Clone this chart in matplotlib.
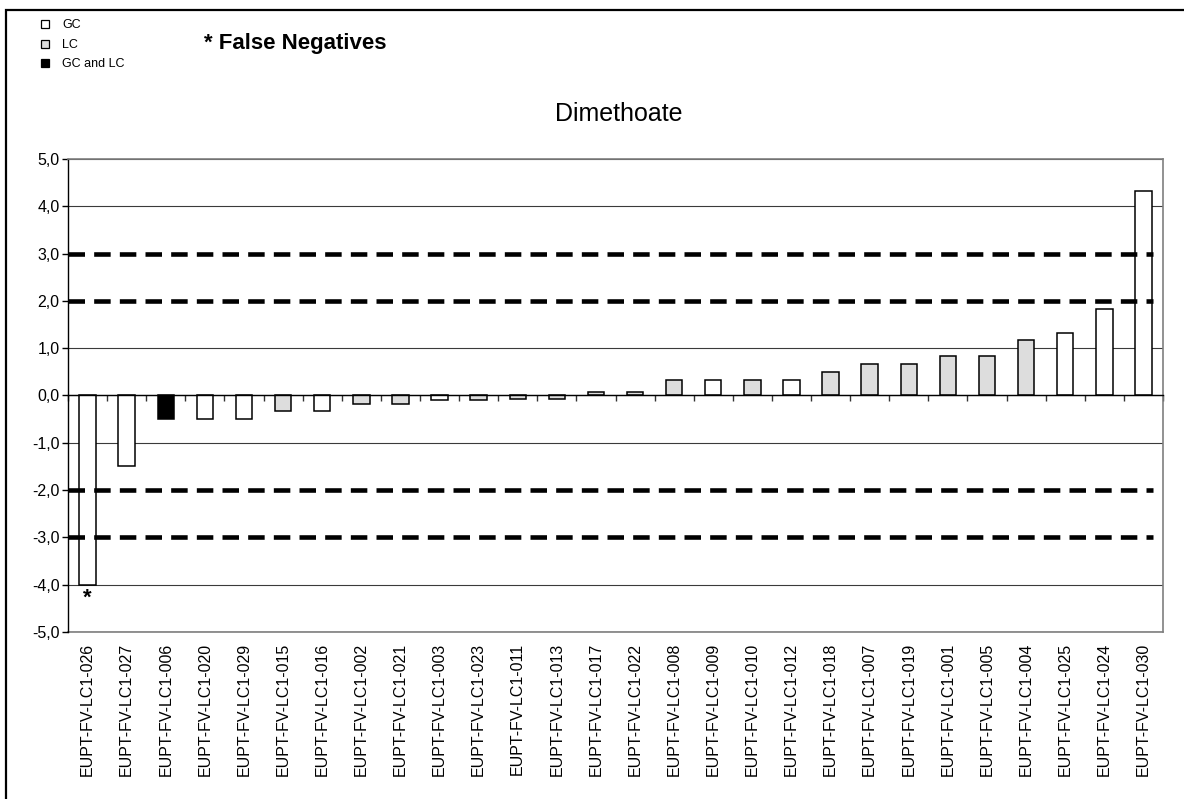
import matplotlib

matplotlib.use("Agg")
import matplotlib.pyplot as plt
import numpy as np
from matplotlib.patches import Rectangle

plt.rcParams["font.family"] = ["Liberation Sans", "DejaVu Sans"]

# labs ordered by z-score, as in the reference
lab_codes = [
    "026", "027", "006", "020", "029", "015", "016", "002", "021", "003",
    "023", "011", "013", "017", "022", "008", "009", "010", "012", "018",
    "007", "019", "001", "005", "004", "025", "024", "030",
]
z_scores = [
    -4.0, -1.5, -0.5, -0.5, -0.5, -0.33, -0.33, -0.17, -0.17, -0.1,
    -0.1, -0.08, -0.08, 0.08, 0.08, 0.33, 0.33, 0.33, 0.33, 0.5,
    0.67, 0.67, 0.83, 0.83, 1.17, 1.33, 1.83, 4.33,
]
metodos = [
    "GC", "GC", "GC and LC", "GC", "GC", "LC", "GC", "LC", "LC", "GC",
    "LC", "LC", "LC", "LC", "LC", "LC", "GC", "LC", "GC", "LC",
    "LC", "LC", "LC", "LC", "LC", "GC", "GC", "GC",
]
falsos_negativos = ["026"]
limites = [-3, -2, 2, 3]
y_ticks = [-5, -4, -3, -2, -1, 0, 1, 2, 3, 4, 5]

colores = {"GC": "white", "LC": "#dddddd", "GC and LC": "black"}
etiquetas = [f"EUPT-FV-LC1-{c}" for c in lab_codes]
x = np.arange(len(lab_codes))

fig = plt.figure(figsize=(11.84, 7.99), dpi=100)
ax = fig.add_axes([68 / 1184, 1 - 632 / 799, 1095 / 1184, 473 / 799])

ax.set_xlim(-0.5, len(lab_codes) - 0.5)
ax.set_ylim(-5, 5)
ax.set_yticks(y_ticks)
ax.set_yticklabels([f"{v:.1f}".replace(".", ",") for v in y_ticks])

# grid behind bars, none where the dashed limits are drawn
ax.set_axisbelow(True)
ax.yaxis.grid(True, color="#3a3a3a", linewidth=0.8)
for v, gl in zip(y_ticks, ax.yaxis.get_gridlines()):
    if v in limites:
        gl.set_visible(False)

ax.bar(
    x,
    z_scores,
    width=0.42,
    color=[colores[m] for m in metodos],
    edgecolor="black",
    linewidth=1.1,
    zorder=2,
)

# |z| = 2 and 3 limits
for lim in limites:
    ax.plot(
        [-0.5, 27.25],
        [lim, lim],
        color="black",
        linewidth=3.3,
        dashes=(3.6, 2.0),
        dash_capstyle="butt",
        zorder=3,
    )

for code in falsos_negativos:
    i = lab_codes.index(code)
    ax.text(i, z_scores[i] - 0.4, "*", ha="center", va="baseline",
            fontsize=16, fontweight="bold")

ax.tick_params(axis="y", direction="out", length=4, width=1,
               labelsize=11.5, pad=2, color="black")

# category axis crosses at zero, labels stay at the bottom
ax.spines["bottom"].set_position(("data", 0))
ax.spines["bottom"].set_color("black")
ax.spines["bottom"].set_linewidth(1)
ax.set_xticks(np.arange(-0.5, len(lab_codes), 1))
ax.tick_params(axis="x", direction="out", length=4, width=1,
               labelbottom=False, color="#333333")

sec = ax.secondary_xaxis("bottom")
sec.set_xticks(x, labels=etiquetas, rotation=90, fontsize=11.5)
sec.tick_params(length=0, pad=8)
sec.spines["bottom"].set_color("#7f7f7f")
sec.spines["bottom"].set_linewidth(1.2)

ax.spines["left"].set_color("black")
ax.spines["left"].set_linewidth(1)
for s in ["top", "right"]:
    ax.spines[s].set_color("#7f7f7f")
    ax.spines[s].set_linewidth(1.2)

fig.text(619 / 1184, 1 - 121 / 799, "Dimethoate", ha="center",
         va="baseline", fontsize=18)
fig.text(204 / 1184, 1 - 49 / 799, "* False Negatives", ha="left",
         va="baseline", fontsize=16, fontweight="bold")

# legend squares
for nombre, yb in [("GC", 28), ("LC", 48), ("GC and LC", 67)]:
    fig.patches.append(Rectangle(
        (41 / 1184, 1 - yb / 799), 8 / 1184, 8 / 799,
        transform=fig.transFigure, facecolor=colores[nombre],
        edgecolor="black", linewidth=0.9))
    fig.text(62 / 1184, 1 - yb / 799, nombre, ha="left", va="baseline",
             fontsize=9)

# outer frame (cropped on right and bottom)
fig.patches.append(Rectangle(
    (6 / 1184, -0.1), 2.0, 1.1 - 10 / 799, transform=fig.transFigure,
    fill=False, edgecolor="black", linewidth=1.6))

fig.savefig("out.png", dpi=100)
